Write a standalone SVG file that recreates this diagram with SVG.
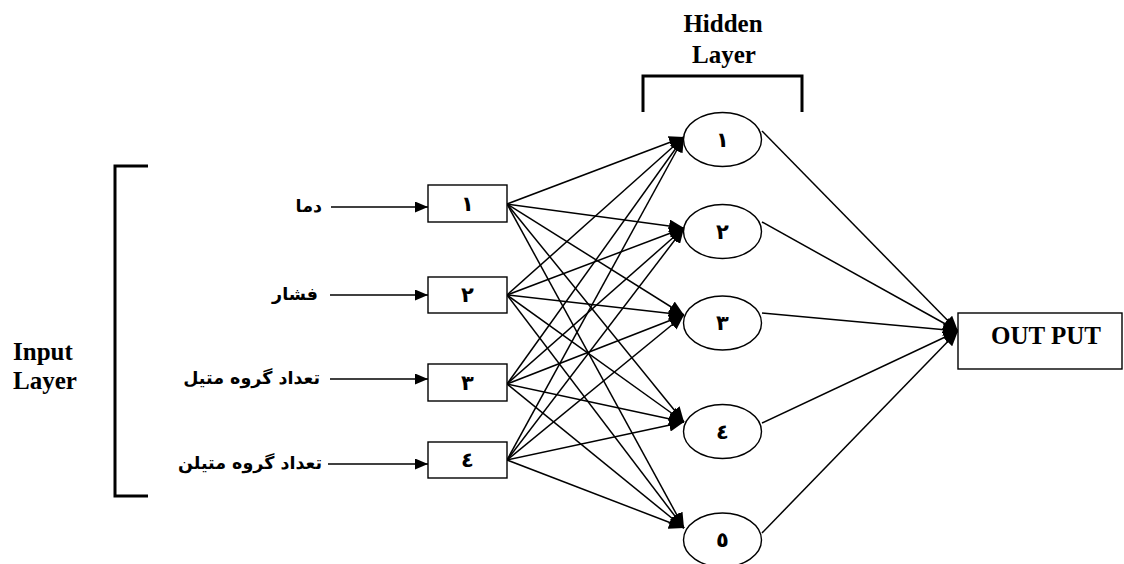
<svg xmlns="http://www.w3.org/2000/svg" width="1124" height="564" viewBox="0 0 1124 564">
<defs>
<marker id="ah" markerUnits="userSpaceOnUse" markerWidth="13" markerHeight="11" refX="13" refY="5.5" orient="auto"><path d="M0,0 L13,5.5 L0,11 z" fill="#000"/></marker>
<marker id="ahb" markerUnits="userSpaceOnUse" markerWidth="15" markerHeight="13" refX="15" refY="6.5" orient="auto"><path d="M0,0 L15,6.5 L0,13 z" fill="#000"/></marker>
<style>
.box{fill:#fff;stroke:#000;stroke-width:1.4}
.ell{fill:#fff;stroke:#000;stroke-width:1.4}
.br{fill:none;stroke:#000;stroke-width:3}
.ln{stroke:#000;stroke-width:1.5;fill:none}
.lbl{font-family:"Liberation Serif","Times New Roman",serif;font-weight:bold;font-size:25px;fill:#000}
.ar{font-family:"DejaVu Sans",sans-serif;font-weight:bold;font-size:17.5px;fill:#000}
.num{font-family:"DejaVu Sans",sans-serif;font-weight:bold;font-size:21px;fill:#000;text-anchor:middle}
</style>
</defs>
<rect width="1124" height="564" fill="#fff"/>
<g id="input-layer-label">
<path class="br" d="M148,166 H115 V496 H148"/>
<text class="lbl" x="13" y="360">Input</text>
<text class="lbl" x="13" y="389">Layer</text>
</g>
<g id="hidden-layer-label">
<path class="br" d="M643,112 V76 H802 V112"/>
<text class="lbl" x="723" y="32" text-anchor="middle">Hidden</text>
<text class="lbl" x="724" y="63" text-anchor="middle">Layer</text>
</g>
<g id="labels">
<text class="ar" x="322" y="212" text-anchor="end">دما</text>
<text class="ar" x="318" y="300" text-anchor="end">فشار</text>
<text class="ar" x="320" y="384" text-anchor="end">تعداد گروه متیل</text>
<text class="ar" x="322" y="469" text-anchor="end">تعداد گروه متیلن</text>
</g>
<g id="connectors">
<line class="ln" x1="331" y1="207" x2="428" y2="207" marker-end="url(#ah)"/>
<line class="ln" x1="330" y1="295" x2="428" y2="295" marker-end="url(#ah)"/>
<line class="ln" x1="330" y1="379" x2="428" y2="379" marker-end="url(#ah)"/>
<line class="ln" x1="328" y1="464" x2="428" y2="464" marker-end="url(#ah)"/>
<g marker-end="url(#ahb)">
<line class="ln" x1="507" y1="204" x2="684" y2="137"/>
<line class="ln" x1="507" y1="204" x2="684" y2="228"/>
<line class="ln" x1="507" y1="204" x2="684" y2="315"/>
<line class="ln" x1="507" y1="204" x2="684" y2="422"/>
<line class="ln" x1="507" y1="204" x2="684" y2="528"/>
<line class="ln" x1="507" y1="295" x2="684" y2="137"/>
<line class="ln" x1="507" y1="295" x2="684" y2="228"/>
<line class="ln" x1="507" y1="295" x2="684" y2="315"/>
<line class="ln" x1="507" y1="295" x2="684" y2="422"/>
<line class="ln" x1="507" y1="295" x2="684" y2="528"/>
<line class="ln" x1="507" y1="384" x2="684" y2="137"/>
<line class="ln" x1="507" y1="384" x2="684" y2="228"/>
<line class="ln" x1="507" y1="384" x2="684" y2="315"/>
<line class="ln" x1="507" y1="384" x2="684" y2="422"/>
<line class="ln" x1="507" y1="384" x2="684" y2="528"/>
<line class="ln" x1="507" y1="460" x2="684" y2="137"/>
<line class="ln" x1="507" y1="460" x2="684" y2="228"/>
<line class="ln" x1="507" y1="460" x2="684" y2="315"/>
<line class="ln" x1="507" y1="460" x2="684" y2="422"/>
<line class="ln" x1="507" y1="460" x2="684" y2="528"/>
<line class="ln" x1="762" y1="131" x2="958" y2="331"/>
<line class="ln" x1="762" y1="222" x2="958" y2="331"/>
<line class="ln" x1="762" y1="313" x2="958" y2="331"/>
<line class="ln" x1="762" y1="423" x2="958" y2="331"/>
<line class="ln" x1="762" y1="533" x2="958" y2="331"/>
</g>
</g>
<g id="in1"><rect class="box" x="428" y="185" width="79" height="37"/><text class="num" x="467.5" y="211">١</text></g>
<g id="in2"><rect class="box" x="428" y="277" width="79" height="36"/><text class="num" x="467.5" y="302">٢</text></g>
<g id="in3"><rect class="box" x="428" y="364" width="79" height="37"/><text class="num" x="467.5" y="390">٣</text></g>
<g id="in4"><rect class="box" x="428" y="442" width="79" height="36"/><text class="num" x="467.5" y="467">٤</text></g>
<g id="h1"><ellipse class="ell" cx="722.5" cy="139.5" rx="39" ry="27"/><text class="num" x="722.5" y="147">١</text></g>
<g id="h2"><ellipse class="ell" cx="722.5" cy="231.5" rx="39" ry="27"/><text class="num" x="722.5" y="239">٢</text></g>
<g id="h3"><ellipse class="ell" cx="722.5" cy="323" rx="39" ry="27"/><text class="num" x="722.5" y="330">٣</text></g>
<g id="h4"><ellipse class="ell" cx="722.5" cy="431.5" rx="39" ry="27"/><text class="num" x="722.5" y="439">٤</text></g>
<g id="h5"><ellipse class="ell" cx="722.5" cy="540" rx="39" ry="27"/><text class="num" x="722.5" y="547">٥</text></g>
<g id="output"><rect class="box" x="958" y="313" width="164" height="56"/><text class="lbl" x="1046" y="344" text-anchor="middle">OUT PUT</text></g>
</svg>
